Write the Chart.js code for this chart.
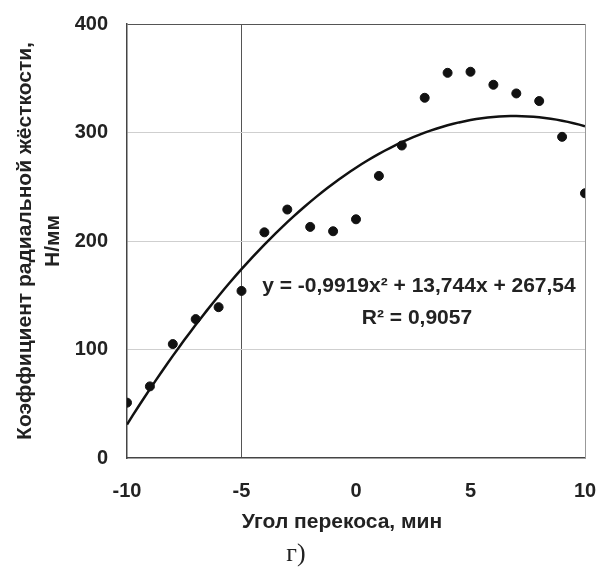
<!DOCTYPE html>
<html lang="ru">
<head>
<meta charset="utf-8">
<title>Коэффициент радиальной жёсткости</title>
<script src="https://cdn.jsdelivr.net/npm/chart.js@4.4.1/dist/chart.umd.min.js"></script>
<style>
   html, body { margin: 0; padding: 0; background: #fff; }
   .wrap { position: relative; width: 598px; height: 571px; }
   canvas { position: absolute; left: 0; top: 0; }
</style>
</head>
<body>
<div class="wrap">
   <canvas id="stiffChart" width="598" height="571"></canvas>
</div>
<script>
// measured points
const angle = [-10, -9, -8, -7, -6, -5, -4, -3, -2, -1, 0, 1, 2, 3, 4, 5, 6, 7, 8, 9, 10];
const stiffness = [51, 66, 105, 128, 139, 154, 208, 229, 213, 209, 220, 260, 288, 332, 355, 356, 344, 336, 329, 296, 244];

// polynomial trend: a*x^2 + b*x + c
const trendCoef = [-0.9919, 13.744, 267.54];
const trendLabel = ['y = -0,9919x² + 13,744x + 267,54', 'R² = 0,9057'];

const xTickValues = [-10, -5, 0, 5, 10];
const yTickValues = [0, 100, 200, 300, 400];

const yTitle = ['Коэффициент радиальной жёсткости,', 'Н/мм'];
const xTitle = 'Угол перекоса, мин';
const caption = 'г)';

const textColor = '#222';
const font = 'Liberation Sans, Arial, sans-serif';

const trendLine = [];
for (let x = angle[0]; x <= angle[angle.length - 1] + 1e-9; x += 0.25) {
   trendLine.push({ x: x, y: trendCoef[0] * x * x + trendCoef[1] * x + trendCoef[2] });
}

const ctx = document.getElementById('stiffChart').getContext('2d');

// extra text + right border
const overlay = {
   id: 'overlay',
   afterDatasetsDraw(chart) {
      const { ctx, chartArea: a, scales } = chart;
      ctx.save();
      ctx.strokeStyle = '#999';
      ctx.lineWidth = 1;
      ctx.beginPath();
      ctx.moveTo(a.right + 0.5, a.top);
      ctx.lineTo(a.right + 0.5, a.bottom);
      ctx.stroke();

      ctx.fillStyle = textColor;
      ctx.textAlign = 'center';
      ctx.textBaseline = 'middle';
      ctx.font = 'bold 21px ' + font;
      const ex = scales.x.getPixelForValue(2.75);
      ctx.fillText(trendLabel[0], ex, scales.y.getPixelForValue(158));
      ctx.fillText(trendLabel[1], ex - 2, scales.y.getPixelForValue(129));

      ctx.fillText(xTitle, a.left + (a.right - a.left) / 2 - 14, 522);

      ctx.font = '26px Liberation Serif, Times New Roman, serif';
      ctx.fillText(caption, 296, 554);
      ctx.restore();
   }
};

new Chart(ctx, {
   type: 'scatter',
   data: {
      datasets: [
         {
            label: 'trend',
            type: 'line',
            data: trendLine,
            borderColor: '#111',
            borderWidth: 2.5,
            pointRadius: 0,
            tension: 0,
            fill: false,
         },
         {
            label: 'data',
            data: angle.map((x, i) => ({ x: x, y: stiffness[i] })),
            backgroundColor: '#111',
            borderColor: '#111',
            pointRadius: 4.5,
         },
      ],
   },
   options: {
      responsive: false,
      animation: false,
      events: [],
      layout: { padding: { top: 24, right: 13, left: 0, bottom: 0 } },
      plugins: { legend: { display: false }, tooltip: { enabled: false } },
      scales: {
         x: {
            type: 'linear',
            min: -10,
            max: 10,
            afterBuildTicks: s => { s.ticks = xTickValues.map(v => ({ value: v })); },
            afterFit: s => {
               s.height = 113;
               s.paddingLeft = 0;
               s.paddingRight = 0;
            },
            grid: {
               drawTicks: false,
               color: c => (c.tick && c.tick.value === -5 ? '#555' : 'rgba(0,0,0,0)'),
               lineWidth: 1,
            },
            border: { color: '#444', width: 1.5 },
            ticks: {
               padding: 21,
               color: textColor,
               font: { family: font, size: 20, weight: 'bold' },
            },
         },
         y: {
            min: 0,
            max: 400,
            afterBuildTicks: s => { s.ticks = yTickValues.map(v => ({ value: v })); },
            afterFit: s => {
               s.width = 127;
               s.paddingTop = 0;
               s.paddingBottom = 0;
            },
            grid: {
               drawTicks: false,
               color: c => {
                  if (!c.tick) return 'rgba(0,0,0,0)';
                  if (c.tick.value === 400) return '#555';
                  if (c.tick.value === 0) return 'rgba(0,0,0,0)';
                  return '#cfcfcf';
               },
               lineWidth: 1,
            },
            border: { color: '#444', width: 1.5 },
            ticks: {
               padding: 19,
               color: textColor,
               font: { family: font, size: 20, weight: 'bold' },
            },
            title: {
               display: true,
               text: yTitle,
               color: textColor,
               padding: { top: 11, bottom: 0 },
               font: { family: font, size: 21, weight: 'bold', lineHeight: 1.333 },
            },
         },
      },
   },
   plugins: [overlay],
});
</script>
</body>
</html>
